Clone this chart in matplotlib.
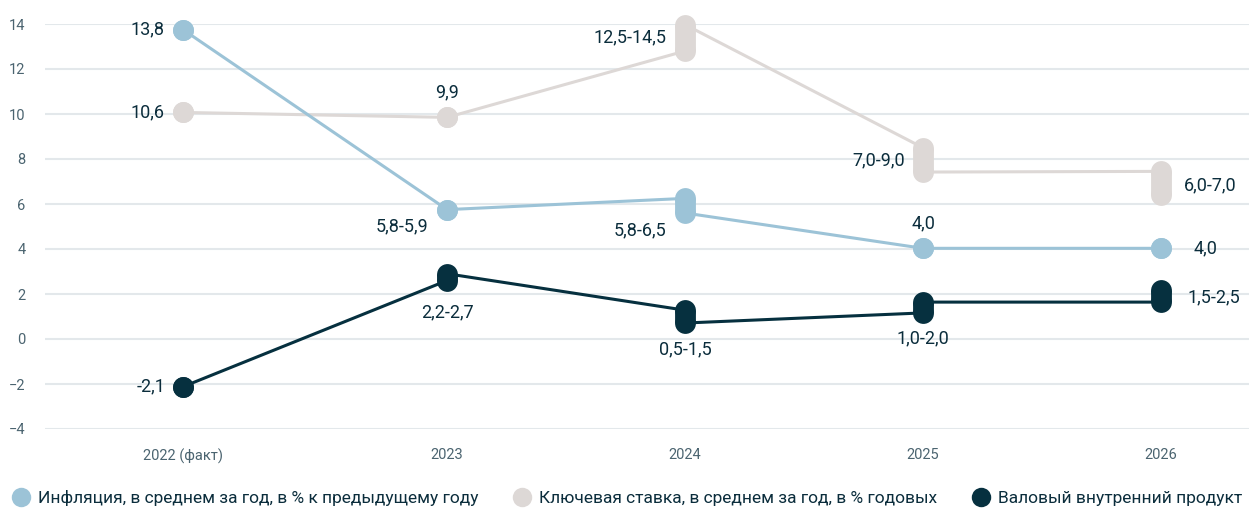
import numpy as np
import matplotlib.pyplot as plt
from matplotlib.lines import Line2D

plt.rcParams['font.family'] = ['Roboto', 'DejaVu Sans']

# ==========================================================
# DATA (positions as drawn in the source; labels as printed)
# ==========================================================
years = ["2022 (факт)", "2023", "2024", "2025", "2026"]

# each year: line enters at *_in, leaves at *_out (capsule spans both)
infl_in = [13.75, 5.75, 6.25, 4.03, 4.03]
infl_out = [13.75, 5.75, 5.60, 4.03, 4.03]
infl_labels = ["13,8", "5,8-5,9", "5,8-6,5", "4,0", "4,0"]

rate_in = [10.07, 9.85, 12.80, 8.50, 7.45]
rate_out = [10.07, 9.85, 13.97, 7.42, 6.42]
rate_labels = ["10,6", "9,9", "12,5-14,5", "7,0-9,0", "6,0-7,0"]

gdp_in = [-2.12, 2.60, 1.28, 1.16, 1.64]
gdp_out = [-2.12, 2.90, 0.71, 1.64, 2.16]
gdp_labels = ["-2,1", "2,2-2,7", "0,5-1,5", "1,0-2,0", "1,5-2,5"]

legend_labels = [
    "Инфляция, в среднем за год, в % к предыдущему году",
    "Ключевая ставка, в среднем за год, в % годовых",
    "Валовый внутренний продукт",
]

# ==========================================================
# STYLE / LAYOUT
# ==========================================================
C_INFL = "#9cc3d7"
C_RATE = "#ddd8d6"
C_GDP = "#06303f"
C_TEXT = "#0b2d3c"
C_TICK = "#4b6470"
C_GRID = "#e3e8eb"

# category slots (first gap is a bit wider in the source layout)
xpos = np.array([0, 1.11, 2.11, 3.11, 4.11])

# label offsets in pixels from capsule centre: (dx, dy, ha)
infl_off = [(-19, 0, "right"), (-19, -17, "right"), (-19, -25, "right"), (0, 25, "center"), (33, 0, "left")]
rate_off = [(-19, 0, "right"), (0, 25, "center"), (-19, 0, "right"), (-18, 0, "right"), (23, -2, "left")]
gdp_off = [(-18, 0, "right"), (0, -35, "center"), (0, -33, "center"), (0, -31, "center"), (27, -1, "left")]

fig = plt.figure(figsize=(12.49, 5.09), dpi=100)
ax = fig.add_axes([45 / 1249, 80 / 509, 1 - 45 / 1249, 405 / 509])


def draw_series(v_in, v_out, labels, offs, color):
    xs = np.repeat(xpos, 2)
    ys = np.column_stack([v_in, v_out]).ravel()
    ax.plot(xs, ys, color=color, lw=2.2, zorder=2, solid_joinstyle="round")
    for i in range(len(xpos)):
        ax.plot([xpos[i], xpos[i]], [v_in[i], v_out[i]], color=color, lw=15,
                solid_capstyle="butt", marker="o", ms=15, mew=0, zorder=3,
                clip_on=False)
        dx, dy, ha = offs[i]
        ax.annotate(labels[i], (xpos[i], (v_in[i] + v_out[i]) / 2),
                    xytext=(dx, dy), textcoords="offset pixels",
                    ha=ha, va="center", fontsize=13, color=C_TEXT, zorder=5)


draw_series(rate_in, rate_out, rate_labels, rate_off, C_RATE)
draw_series(infl_in, infl_out, infl_labels, infl_off, C_INFL)
draw_series(gdp_in, gdp_out, gdp_labels, gdp_off, C_GDP)

ax.set_ylim(-4, 14)
ax.set_yticks(np.arange(-4, 15, 2))
ax.set_xlim(-0.58, 4.48)
ax.set_xticks(xpos)
ax.set_xticklabels(years)
ax.grid(axis="y", color=C_GRID, lw=1.5)
ax.set_axisbelow(True)
ax.tick_params(axis="both", length=0, labelsize=10.5, labelcolor=C_TICK)
ax.tick_params(axis="y", pad=14)
ax.tick_params(axis="x", pad=14)
for s in ax.spines.values():
    s.set_visible(False)

handles = [Line2D([], [], ls="", marker="o", ms=14, mew=0, color=c)
           for c in (C_INFL, C_RATE, C_GDP)]
fig.legend(handles, legend_labels, loc="lower left", bbox_to_anchor=(0.0, -0.018),
           ncol=3, frameon=False, fontsize=12.5, labelcolor=C_TEXT,
           handlelength=1.0, handletextpad=0.5, columnspacing=2.0,
           borderaxespad=0.3)

fig.savefig("out.png", dpi=100)
